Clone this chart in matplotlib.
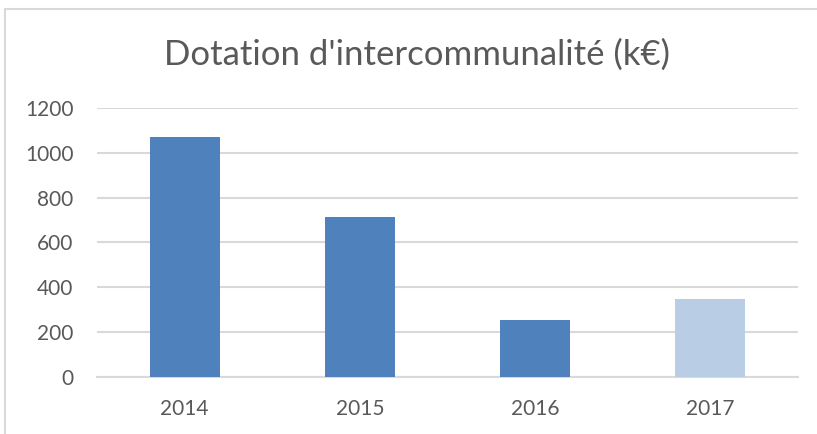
import matplotlib
matplotlib.use('Agg')
import matplotlib.pyplot as plt
from matplotlib.patches import Rectangle

# Data
years = ['2014', '2015', '2016', '2017']
values = [1071, 715, 256, 350]
bar_colors = ['#4F81BD', '#4F81BD', '#4F81BD', '#B9CDE5']
y_ticks = [0, 200, 400, 600, 800, 1000, 1200]

plt.rcParams['font.family'] = ['Lato', 'DejaVu Sans']

fig = plt.figure(figsize=(8.17, 4.34), dpi=100)
ax = fig.add_axes([97 / 817, 1 - 377 / 434, 701 / 817, 269 / 434])

x = range(len(years))
ax.bar(x, values, width=0.4, color=bar_colors, zorder=3)

ax.set_xlim(-0.5, len(years) - 0.5)
ax.set_ylim(0, 1200)
ax.set_xticks(list(x))
ax.set_xticklabels(years)
ax.set_yticks(y_ticks)

ax.grid(axis='y', color='#D9D9D9', linewidth=1.5, zorder=0)
for s in ['top', 'right', 'left']:
    ax.spines[s].set_visible(False)
ax.spines['bottom'].set_color('#D9D9D9')
ax.spines['bottom'].set_linewidth(1.5)
ax.tick_params(axis='both', length=0, colors='#595959', labelsize=15)
ax.tick_params(axis='y', pad=17)
ax.tick_params(axis='x', pad=16)

fig.text(0.51, 1 - 55 / 434, "Dotation d'intercommunalité (k€)",
         ha='center', va='center', fontsize=25, color='#595959')

# chart area border
fig.patches.append(Rectangle((5 / 817, -0.1), 1.2, 1 - 9 / 434 + 0.1,
                             transform=fig.transFigure, fill=False,
                             edgecolor='#D9D9D9', linewidth=1.5))

fig.savefig('out.png', dpi=100)
